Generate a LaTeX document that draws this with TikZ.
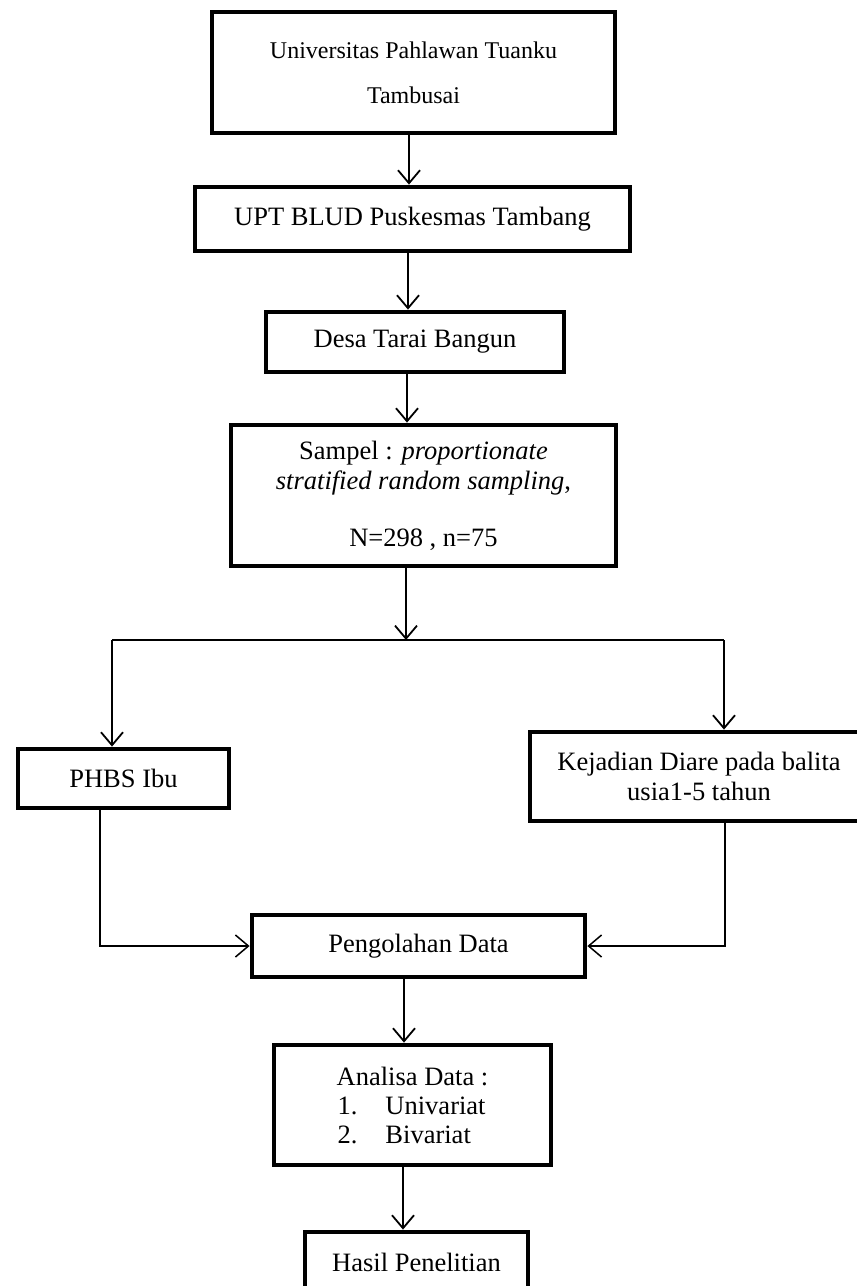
\documentclass[tikz,border=0pt]{standalone}
\usepackage{fontspec}
\setmainfont{Liberation Serif}
\usetikzlibrary{arrows.meta}
\begin{document}
\begin{tikzpicture}[x=1pt,y=-1pt,
  box/.style={draw, line width=4.8pt, inner sep=0pt, align=center, font=\fontsize{26.5}{30}\selectfont},
  arr/.style={line width=1.8pt, -{Straight Barb[length=13pt,width=22pt]}},
  link/.style={line width=1.4pt}]
\clip (0,0) rectangle (857,1286);
% boxes
\node[box, minimum width=403pt, minimum height=121pt, font=\fontsize{24}{30}\selectfont] (b1) at (413.5,72.5) {Universitas Pahlawan Tuanku\\[15pt]Tambusai};
\node[box, minimum width=435pt, minimum height=64pt] (b2) at (412.5,219) {UPT BLUD Puskesmas Tambang};
\node[box, minimum width=298pt, minimum height=60pt] (b3) at (415,342) {Desa Tarai Bangun};
\node[box, minimum width=385pt, minimum height=141pt] (b4) at (423.5,495.5) {Sampel : \textit{proportionate}\\\textit{stratified random sampling},\\[27pt]N=298 , n=75};
\node[box, minimum width=211pt, minimum height=59pt] (phbs) at (123.5,778.5) {PHBS Ibu};
\node[box, minimum width=338pt, minimum height=89pt] (kej) at (699,776.5) {Kejadian Diare pada balita\\usia1-5 tahun};
\node[box, minimum width=333pt, minimum height=62pt] (peng) at (418.5,946) {Pengolahan Data};
\node[box, minimum width=277pt, minimum height=120pt, font=\fontsize{26.5}{29}\selectfont] (ana) at (412.5,1105) {Analisa Data :\\\makebox[150pt][l]{\makebox[48pt][l]{1.}Univariat}\\\makebox[150pt][l]{\makebox[48pt][l]{2.}Bivariat}};
\node[box, minimum width=223pt, minimum height=60pt] (hasil) at (416.5,1262) {Hasil Penelitian};
% helper coordinates
\coordinate (sp) at (406,640);
\coordinate (L) at (112,640);
\coordinate (R) at (724,640);
\coordinate (pl) at (100,0);
\coordinate (pr) at (725,0);
% connectors
\draw[arr] (b1.south -| 409,0) -- (b2.north -| 409,0);
\draw[arr] (b2.south -| 408,0) -- (b3.north -| 408,0);
\draw[arr] (b3.south -| 407,0) -- (b4.north -| 407,0);
\draw[arr] (b4.south -| sp) -- (sp);
\draw[link] (L) -- (R);
\draw[arr] (L) -- (L |- phbs.north);
\draw[arr] (R) -- (R |- kej.north);
\draw[arr, line width=1.5pt] (phbs.south -| pl) |- (peng.west);
\draw[arr, line width=1.5pt] (kej.south -| pr) |- (peng.east);
\draw[arr] (peng.south -| 404,0) -- (ana.north -| 404,0);
\draw[arr] (ana.south -| 403,0) -- (hasil.north -| 403,0);
\end{tikzpicture}
\end{document}
